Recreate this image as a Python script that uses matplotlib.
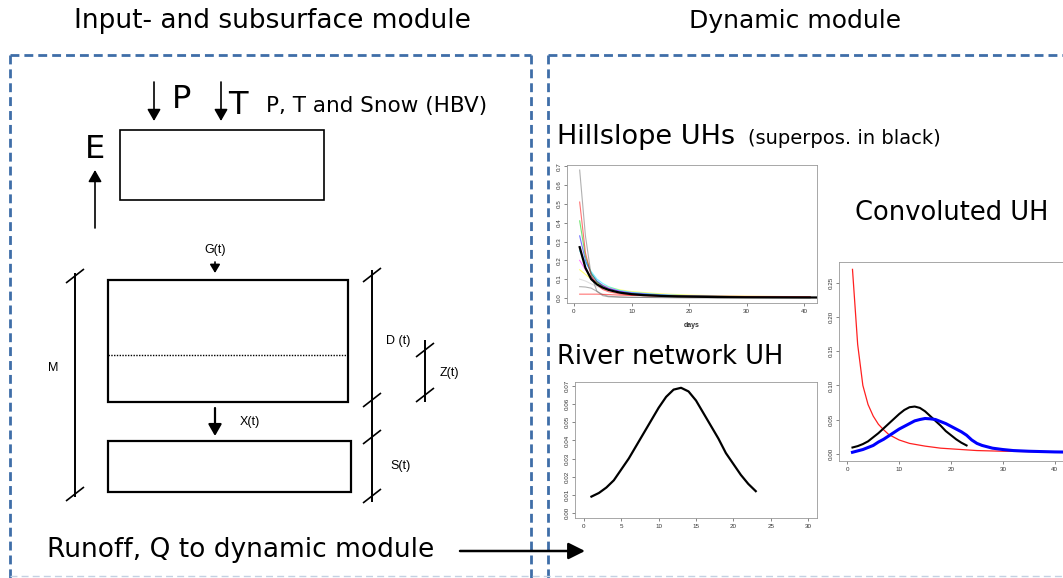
import matplotlib
matplotlib.use("Agg")
import matplotlib.pyplot as plt
from matplotlib.patches import Rectangle

W, H = 1063, 578
plt.rcParams["font.family"] = ["DejaVu Sans"]

# hillslope unit hydrographs (one per sub-area), days after input
hs_days = [1, 2, 3, 4, 5, 6, 8, 10, 15, 20, 30, 41]
hs_gray_top = [0.68, 0.33, 0.12, 0.035, 0.012, 0.006, 0.004, 0.003, 0.002, 0.001, 0.001, 0.001]
hs_red = [0.51, 0.24, 0.12, 0.07, 0.045, 0.033, 0.021, 0.015, 0.009, 0.006, 0.004, 0.003]
hs_green = [0.41, 0.22, 0.13, 0.085, 0.06, 0.045, 0.03, 0.022, 0.013, 0.01, 0.006, 0.004]
hs_blue = [0.33, 0.20, 0.13, 0.09, 0.066, 0.05, 0.034, 0.025, 0.014, 0.01, 0.006, 0.004]
hs_cyan = [0.25, 0.19, 0.14, 0.10, 0.077, 0.06, 0.04, 0.03, 0.018, 0.012, 0.007, 0.005]
hs_magenta = [0.20, 0.15, 0.11, 0.085, 0.066, 0.052, 0.036, 0.028, 0.016, 0.011, 0.007, 0.005]
hs_yellow = [0.15, 0.125, 0.10, 0.082, 0.068, 0.057, 0.043, 0.034, 0.022, 0.015, 0.009, 0.006]
hs_lightgray = [0.10, 0.09, 0.075, 0.06, 0.05, 0.04, 0.028, 0.02, 0.012, 0.008, 0.005, 0.003]
hs_gray_low = [0.06, 0.058, 0.052, 0.035, 0.018, 0.009, 0.005, 0.003, 0.002, 0.001, 0.001, 0.0]
hs_red_low = [0.02, 0.02, 0.02, 0.02, 0.019, 0.018, 0.015, 0.013, 0.011, 0.01, 0.008, 0.007]

# superposition of the hillslope UHs (black in hillslope plot, red in convoluted plot)
sup_days = [1, 2, 3, 4, 5, 6, 7, 8, 10, 12, 15, 18, 20, 25, 30, 40, 50, 66]
sup_vals = [0.27, 0.16, 0.10, 0.072, 0.055, 0.043, 0.035, 0.028, 0.02, 0.015, 0.011,
            0.008, 0.007, 0.0045, 0.0035, 0.0025, 0.0018, 0.0012]

# river network UH
riv_days = list(range(1, 24))
riv_vals = [0.009, 0.011, 0.014, 0.018, 0.024, 0.030, 0.037, 0.044, 0.051, 0.058, 0.064, 0.068,
            0.069, 0.067, 0.062, 0.055, 0.048, 0.041, 0.033, 0.027, 0.021, 0.016, 0.012]

# convoluted UH
conv_days = [1, 2, 3, 4, 5, 6, 7, 8, 9, 10, 11, 12, 13, 14, 15, 16, 17, 18, 19, 20, 21, 22,
             23, 24, 25, 26, 27, 28, 30, 32, 35, 40, 50, 66]
conv_vals = [0.002, 0.004, 0.006, 0.009, 0.012, 0.017, 0.021, 0.026, 0.031, 0.036, 0.040,
             0.044, 0.048, 0.050, 0.0515, 0.051, 0.050, 0.047, 0.044, 0.040, 0.036, 0.032,
             0.027, 0.020, 0.015, 0.012, 0.010, 0.008, 0.006, 0.0045, 0.0035, 0.0025, 0.0015, 0.001]

fig = plt.figure(figsize=(W / 100, H / 100), dpi=100)

# overlay in pixel coordinates for the sketch
ov = fig.add_axes([0, 0, 1, 1])
ov.set_xlim(0, W)
ov.set_ylim(H, 0)
ov.axis("off")

blue_dash = dict(color="#3f6ea8", lw=2.0, linestyle=(0, (3.2, 1.8)))
ov.plot([10, 531], [55, 55], **blue_dash)
ov.plot([10, 10], [55, 578], **blue_dash)
ov.plot([531, 531], [55, 578], **blue_dash)
ov.plot([548, 1063], [55, 55], **blue_dash)
ov.plot([548, 548], [55, 578], **blue_dash)
ov.plot([10, 1063], [576, 576], color="#c3d1e2", lw=1, linestyle=(0, (5, 3)))

ov.text(272, 21, "Input- and subsurface module", fontsize=19, ha="center", va="center")
ov.text(795, 21, "Dynamic module", fontsize=18, ha="center", va="center")


def seg(x0, y0, x1, y1, lw=1.4):
    ov.plot([x0, x1], [y0, y1], color="k", lw=lw, solid_capstyle="butt")


def slash(x, y):
    seg(x - 9, y + 7, x + 9, y - 7, lw=1.2)


def arrow(x0, y0, x1, y1, lw=1.2, hw=4, hl=7):
    ov.annotate("", xy=(x1, y1), xytext=(x0, y0),
                arrowprops=dict(arrowstyle="-|>,head_width=%g,head_length=%g" % (hw / 10, hl / 10),
                                color="k", lw=lw, shrinkA=0, shrinkB=0))


# HBV part
ov.add_patch(Rectangle((120, 130), 204, 70, fill=False, lw=1.2, ec="k"))
arrow(154, 82, 154, 121)
arrow(221, 82, 221, 121)
arrow(95, 228, 95, 170)
ov.text(172, 100, "P", fontsize=23, ha="left", va="center")
ov.text(228, 105, "T", fontsize=23, ha="left", va="center")
ov.text(266, 106, "P, T and Snow (HBV)", fontsize=15.5, ha="left", va="center")
ov.text(95, 150, "E", fontsize=23, ha="center", va="center")

# subsurface part
ov.add_patch(Rectangle((108, 280), 240, 122, fill=False, lw=1.6, ec="k"))
ov.plot([108, 348], [355, 355], color="k", lw=1, linestyle=(0, (1, 1)))
ov.add_patch(Rectangle((108, 441), 243, 51, fill=False, lw=1.6, ec="k"))
seg(75, 273, 75, 497)
slash(75, 276)
slash(75, 494)
seg(372, 270, 372, 502)
for yy in (275, 400, 437, 496):
    slash(372, yy)
seg(425, 340, 425, 402)
slash(425, 350)
slash(425, 395)

small = dict(fontsize=9, family=["Liberation Sans", "DejaVu Sans"], va="center")
ov.text(215, 250, "G(t)", ha="center", **small)
arrow(215, 262, 215, 273, lw=1.2, hw=3, hl=5)
arrow(215, 408, 215, 436, lw=1.6, hw=4, hl=7)
ov.text(240, 422, "X(t)", ha="left", **small)
ov.text(53, 368, "M", ha="center", **small)
ov.text(386, 341, "D (t)", ha="left", **small)
ov.text(440, 373, "Z(t)", ha="left", **small)
ov.text(390, 466, "S(t)", ha="left", **small)

ov.text(47, 550, "Runoff, Q to dynamic module", fontsize=19, ha="left", va="center")
arrow(460, 551, 585, 551, lw=1.8, hw=5, hl=10)

# right panel headings
ov.text(557, 137, "Hillslope UHs", fontsize=19.5, ha="left", va="center")
ov.text(748, 139, "(superpos. in black)", fontsize=14, ha="left", va="center")
ov.text(855, 213, "Convoluted UH", fontsize=18.5, ha="left", va="center")
ov.text(557, 357, "River network UH", fontsize=18.5, ha="left", va="center")


def px_axes(l, t, r, b):
    a = fig.add_axes([l / W, 1 - b / H, (r - l) / W, (b - t) / H])
    for s in a.spines.values():
        s.set_color("#999999")
        s.set_linewidth(0.6)
    a.tick_params(length=2.5, width=0.5, color="#555555", labelsize=4.5,
                  labelcolor="#333333", pad=1.5)
    a.tick_params(axis="y", labelrotation=90)
    return a


# hillslope plot
ax1 = px_axes(567, 165, 817, 303)
hs_series = [(hs_yellow, "#ffff00"), (hs_lightgray, "#c8c8c8"), (hs_magenta, "#ff00ff"),
             (hs_cyan, "#00e0ff"), (hs_blue, "#0000ff"), (hs_green, "#00cd00"),
             (hs_red, "#ff0000"), (hs_gray_low, "#707070"), (hs_red_low, "#ff0000"),
             (hs_gray_top, "#707070")]
for vals, col in hs_series:
    ax1.plot(hs_days, vals, color=col, lw=0.8, alpha=0.55)
ax1.plot(sup_days, sup_vals, color="k", lw=1.6)
ax1.set_xlim(-1.2, 42.2)
ax1.set_ylim(-0.027, 0.707)
ax1.set_xticks([0, 10, 20, 30, 40])
ax1.set_yticks([0.0, 0.1, 0.2, 0.3, 0.4, 0.5, 0.6, 0.7])
ax1.set_yticklabels(["0.0", "0.1", "0.2", "0.3", "0.4", "0.5", "0.6", "0.7"], va="center")
ax1.set_xlabel("days", fontsize=5, family=["Liberation Sans", "DejaVu Sans"],
               fontweight="bold", labelpad=6, color="#333333")

# river network plot
ax2 = px_axes(575, 382, 817, 518)
ax2.plot(riv_days, riv_vals, color="k", lw=1.6)
ax2.set_xlim(-1.2, 31.2)
ax2.set_ylim(-0.0028, 0.0722)
ax2.set_xticks([0, 5, 10, 15, 20, 25, 30])
ax2.set_yticks([0.0, 0.01, 0.02, 0.03, 0.04, 0.05, 0.06, 0.07])
ax2.set_yticklabels(["0.00", "0.01", "0.02", "0.03", "0.04", "0.05", "0.06", "0.07"], va="center")

# convoluted plot (extends past the right edge)
ax3 = px_axes(839, 262, 1203, 461)
ax3.plot(sup_days, sup_vals, color="#ff2020", lw=0.9)
ax3.plot(riv_days, riv_vals, color="k", lw=1.5)
ax3.plot(conv_days, conv_vals, color="#0000ff", lw=2.2)
ax3.set_xlim(-1.6, 68.6)
ax3.set_ylim(-0.0108, 0.2808)
ax3.set_xticks([0, 10, 20, 30, 40])
ax3.set_yticks([0.0, 0.05, 0.10, 0.15, 0.20, 0.25])
ax3.set_yticklabels(["0.00", "0.05", "0.10", "0.15", "0.20", "0.25"], va="center")

for a in (ax1, ax2, ax3):
    for lab in a.get_yticklabels() + a.get_xticklabels():
        lab.set_family(["Liberation Sans", "DejaVu Sans"])

fig.savefig("out.png", dpi=100)
